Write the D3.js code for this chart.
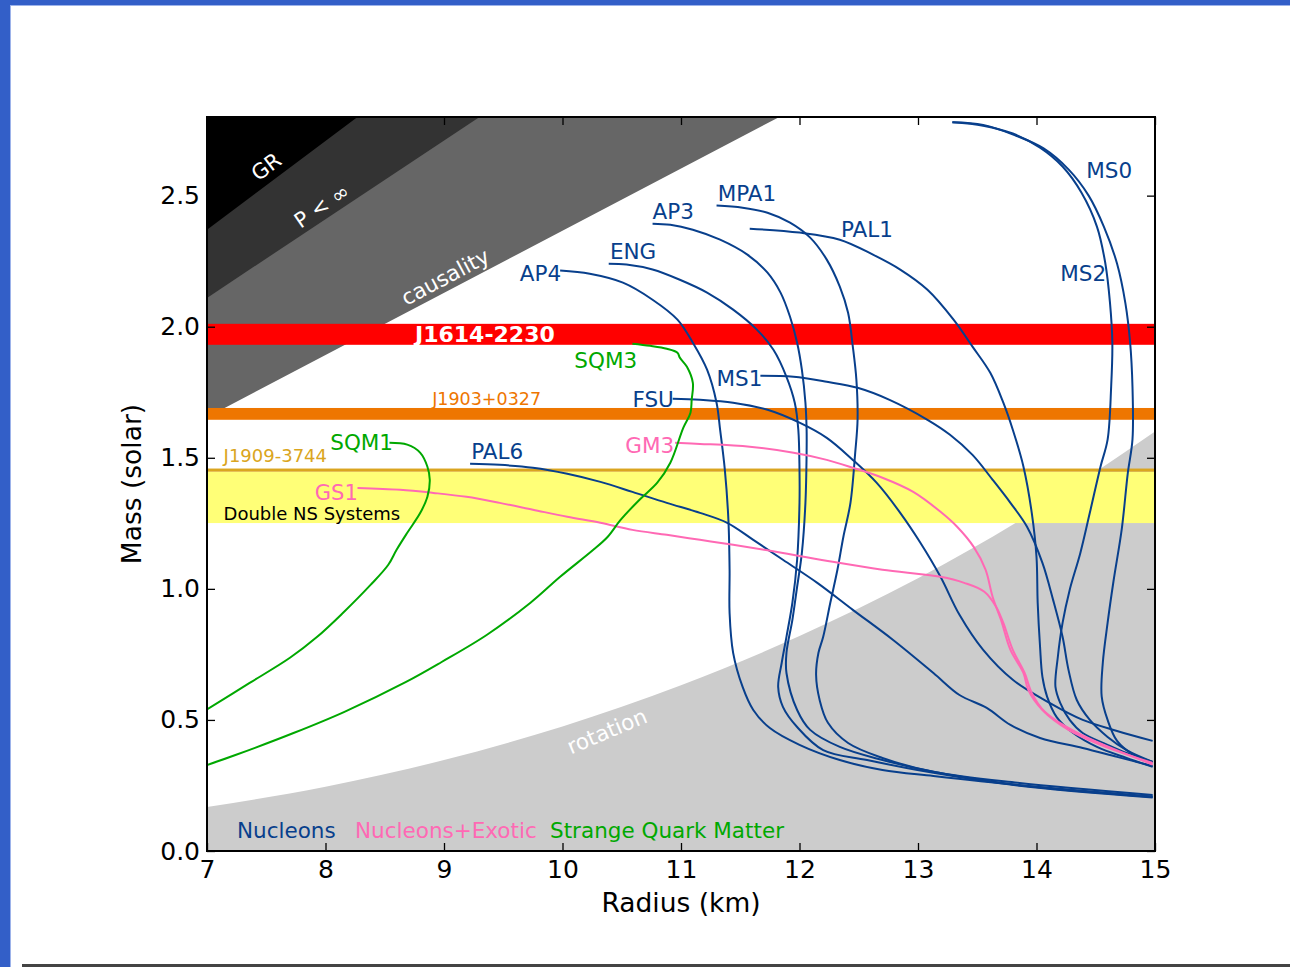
<!DOCTYPE html>
<html><head><meta charset="utf-8">
<script src="https://cdn.jsdelivr.net/npm/d3@7"></script>
<style>
html,body{margin:0;padding:0;background:#fff;}
svg{display:block;font-family:"DejaVu Sans",sans-serif;}
</style></head><body>
<svg id="chart" width="1290" height="967"></svg>
<script>
// ---------------- data ----------------
const xTicks = [7, 8, 9, 10, 11, 12, 13, 14, 15];
const yTicks = [0, 0.5, 1.0, 1.5, 2.0, 2.5];
const yTickLabels = ["0.0", "0.5", "1.0", "1.5", "2.0", "2.5"];

// excluded regions (boundary lines, radius km / mass solar)
const grLimit = [[7, 2.37], [8.27, 2.8]];
const pressureLimit = [[7, 2.11], [9.30, 2.8]];
const causalityLimit = [[7, 1.655], [11.83, 2.8]];
const rotationLimit = [[7, 0.168], [8, 0.245], [9, 0.347], [10, 0.475], [11, 0.632], [12, 0.82], [13, 1.04], [14, 1.30], [15, 1.60]];

// measured mass bands
const bandNames = ["J1614-2230", "J1903+0327", "J1909-3744", "Double NS Systems"];
const bandLow = [1.931, 1.645, 1.447, 1.251];
const bandHigh = [2.011, 1.690, 1.459, 1.447];

// mass–radius curves
const ms0 = [[13.29,2.78],[13.55,2.77],[13.82,2.73],[14.06,2.68],[14.27,2.60],[14.44,2.50],[14.57,2.38],[14.68,2.24],[14.75,2.09],[14.79,1.94],[14.81,1.77],[14.81,1.57],[14.77,1.44],[14.72,1.23],[14.65,1.03],[14.60,0.87],[14.56,0.72],[14.55,0.59],[14.60,0.50],[14.68,0.42],[14.81,0.37],[14.98,0.34]];
const ms2 = [[13.29,2.78],[13.55,2.767],[13.80,2.737],[14.03,2.683],[14.22,2.611],[14.38,2.511],[14.51,2.382],[14.58,2.244],[14.62,2.092],[14.64,1.939],[14.63,1.771],[14.60,1.569],[14.54,1.466],[14.45,1.290],[14.37,1.137],[14.28,0.996],[14.22,0.870],[14.18,0.740],[14.16,0.626],[14.20,0.565],[14.28,0.500],[14.39,0.450],[14.60,0.405],[14.76,0.374],[14.98,0.340]];
const ms1 = [[11.67,1.813],[11.95,1.809],[12.23,1.790],[12.49,1.767],[12.76,1.721],[13.08,1.645],[13.27,1.588],[13.46,1.511],[13.63,1.416],[13.78,1.328],[13.92,1.237],[14.05,1.099],[14.14,0.958],[14.22,0.817],[14.27,0.691],[14.34,0.576],[14.45,0.500],[14.60,0.435],[14.76,0.385],[14.98,0.340]];
const pal1 = [[11.58,2.374],[12.00,2.359],[12.34,2.332],[12.62,2.275],[12.85,2.218],[13.08,2.141],[13.30,2.027],[13.46,1.924],[13.61,1.824],[13.72,1.710],[13.80,1.607],[13.89,1.466],[13.96,1.290],[14.00,1.122],[14.01,0.947],[14.03,0.779],[14.05,0.664],[14.09,0.588],[14.17,0.511],[14.31,0.450],[14.51,0.397],[14.76,0.355],[14.98,0.321]];
const mpa1 = [[11.30,2.462],[11.52,2.454],[11.73,2.435],[11.92,2.397],[12.09,2.340],[12.23,2.256],[12.34,2.153],[12.41,2.053],[12.45,1.924],[12.48,1.798],[12.49,1.645],[12.47,1.519],[12.43,1.328],[12.37,1.198],[12.32,1.073],[12.26,0.947],[12.20,0.817],[12.16,0.756],[12.14,0.672],[12.17,0.576],[12.24,0.489],[12.41,0.412],[12.70,0.355],[13.13,0.302],[13.84,0.260],[14.98,0.214]];
const ap3 = [[10.76,2.393],[10.91,2.389],[11.10,2.370],[11.33,2.332],[11.56,2.275],[11.73,2.206],[11.84,2.130],[11.92,2.038],[11.98,1.939],[12.02,1.836],[12.05,1.710],[12.06,1.607],[12.06,1.519],[12.05,1.328],[12.02,1.137],[11.98,1.008],[11.94,0.882],[11.89,0.756],[11.89,0.679],[11.98,0.538],[12.09,0.462],[12.34,0.397],[12.70,0.347],[13.13,0.302],[13.84,0.252],[14.98,0.206]];
const eng = [[10.39,2.240],[10.54,2.237],[10.76,2.218],[10.99,2.179],[11.22,2.130],[11.44,2.065],[11.64,1.989],[11.78,1.912],[11.89,1.809],[11.96,1.710],[11.99,1.607],[12.00,1.454],[12.00,1.328],[11.98,1.111],[11.94,0.947],[11.89,0.817],[11.85,0.718],[11.82,0.626],[11.86,0.550],[11.98,0.473],[12.20,0.385],[12.57,0.347],[13.13,0.298],[13.84,0.250],[14.98,0.204]];
const ap4 = [[9.98,2.214],[10.23,2.202],[10.51,2.168],[10.76,2.103],[10.97,2.027],[11.10,1.939],[11.22,1.836],[11.30,1.710],[11.33,1.607],[11.37,1.454],[11.40,1.263],[11.41,1.073],[11.41,0.908],[11.44,0.756],[11.52,0.626],[11.61,0.538],[11.75,0.469],[12.00,0.405],[12.34,0.347],[12.70,0.309],[13.13,0.286],[13.84,0.252],[14.98,0.208]];
const fsu = [[10.93,1.725],[11.16,1.721],[11.44,1.710],[11.73,1.683],[12.00,1.634],[12.23,1.576],[12.45,1.492],[12.65,1.405],[12.85,1.290],[13.02,1.176],[13.19,1.046],[13.35,0.901],[13.55,0.767],[13.80,0.653],[14.11,0.565],[14.39,0.500],[14.68,0.458],[14.98,0.420]];
const pal6 = [[9.22,1.477],[9.47,1.473],[9.75,1.462],[10.04,1.439],[10.32,1.408],[10.59,1.370],[10.88,1.328],[11.16,1.290],[11.39,1.252],[11.61,1.187],[11.86,1.111],[12.15,1.023],[12.45,0.920],[12.79,0.805],[13.13,0.679],[13.35,0.595],[13.58,0.546],[13.78,0.481],[14.03,0.431],[14.39,0.393],[14.68,0.359],[14.98,0.324]];
const gm3 = [[10.95,1.557],[11.16,1.553],[11.58,1.542],[11.95,1.519],[12.23,1.492],[12.45,1.462],[12.70,1.424],[12.96,1.370],[13.19,1.294],[13.33,1.237],[13.47,1.160],[13.57,1.073],[13.63,0.969],[13.70,0.882],[13.78,0.767],[13.89,0.679],[13.93,0.615],[14.05,0.538],[14.27,0.462],[14.54,0.405],[14.98,0.336]];
const gs1 = [[8.27,1.385],[8.63,1.378],[8.91,1.366],[9.19,1.351],[9.47,1.328],[9.75,1.302],[10.04,1.275],[10.32,1.252],[10.59,1.225],[10.88,1.206],[11.16,1.187],[11.44,1.168],[11.86,1.137],[12.28,1.103],[12.70,1.073],[13.19,1.046],[13.39,1.023],[13.56,0.989],[13.66,0.931],[13.72,0.870],[13.80,0.767],[13.90,0.679],[13.96,0.603],[14.07,0.531],[14.33,0.454],[14.98,0.330]];
const sqm1 = [[8.54,1.557],[8.69,1.550],[8.80,1.519],[8.86,1.466],[8.88,1.416],[8.86,1.351],[8.80,1.290],[8.69,1.214],[8.60,1.149],[8.53,1.092],[8.38,1.015],[8.14,0.905],[7.93,0.817],[7.70,0.737],[7.36,0.641],[7.00,0.540]];
const sqm3 = [[10.59,1.935],[10.74,1.927],[10.88,1.916],[10.97,1.901],[10.99,1.882],[11.05,1.847],[11.10,1.786],[11.09,1.721],[11.08,1.672],[11.02,1.615],[10.91,1.481],[10.80,1.405],[10.65,1.340],[10.49,1.263],[10.38,1.198],[10.26,1.149],[9.98,1.046],[9.73,0.947],[9.36,0.824],[8.98,0.721],[8.68,0.645],[8.16,0.531],[7.73,0.450],[7.24,0.366],[7.00,0.328]];

const curveNames = ["MS0","MS2","MS1","PAL1","MPA1","AP3","ENG","AP4","FSU","PAL6","GM3","GS1","SQM1","SQM3"];
const curveFamily = ["N","N","N","N","N","N","N","N","N","N","X","X","Q","Q"];
const curveData = [ms0, ms2, ms1, pal1, mpa1, ap3, eng, ap4, fsu, pal6, gm3, gs1, sqm1, sqm3];

const familyNames = ["Nucleons", "Nucleons+Exotic", "Strange Quark Matter"];
const familyKeys = ["N", "X", "Q"];

// ---------------- drawing ----------------
const svg = d3.select("#chart");
const color = d3.scaleOrdinal().domain(familyKeys).range(["#083f8c", "#ff69b4", "#00a800"]);
const x = d3.scaleLinear().domain([7, 15]).range([207, 1155]);
const y = d3.scaleLinear().domain([0, 2.8]).range([851, 117]);
const [X0, X1] = x.range(); const [Y0, Y1] = [y(2.8), y(0)];

// page frame
svg.append("rect").attr("x", 0).attr("y", 0).attr("width", 1290).attr("height", 967).attr("fill", "#fff");
svg.append("rect").attr("x", 0).attr("y", 0).attr("width", 10).attr("height", 967).attr("fill", "#335fc8");
svg.append("rect").attr("x", 0).attr("y", 0).attr("width", 1290).attr("height", 5).attr("fill", "#335fc8");
svg.append("rect").attr("x", 10).attr("y", 5).attr("width", 1).attr("height", 962).attr("fill", "#9db3ea");
svg.append("rect").attr("x", 10).attr("y", 5).attr("width", 1280).attr("height", 1).attr("fill", "#9db3ea");
svg.append("rect").attr("x", 22).attr("y", 964).attr("width", 1268).attr("height", 3).attr("fill", "#444");

svg.append("defs").append("clipPath").attr("id", "plotclip")
  .append("rect").attr("x", X0).attr("y", Y0).attr("width", X1 - X0).attr("height", Y1 - Y0);
const plot = svg.append("g").attr("clip-path", "url(#plotclip)");

// regions above a boundary line
function upperRegion(pts) {
  const poly = [[7, 2.8]].concat(pts).concat([[15, 2.8]]);
  return d3.line().x(d => x(d[0])).y(d => y(d[1]))(poly) + "Z";
}
plot.append("path").attr("d", upperRegion(causalityLimit)).attr("fill", "#666666");
plot.append("path").attr("d", upperRegion(pressureLimit)).attr("fill", "#333333");
plot.append("path").attr("d", upperRegion(grLimit)).attr("fill", "#000000");
plot.append("path")
  .attr("d", d3.area().x(d => x(d[0])).y0(y(0)).y1(d => y(d[1])).curve(d3.curveMonotoneX)(rotationLimit))
  .attr("fill", "#cccccc");

// bands
const bandColors = ["#ff0000", "#ee7600", "#daa520", "#ffff77"];
const bandOrder = [3, 2, 1, 0];
plot.selectAll("rect.band").data(bandOrder).enter().append("rect")
  .attr("class", "band")
  .attr("x", X0).attr("width", X1 - X0)
  .attr("y", i => y(bandHigh[i])).attr("height", i => y(bandLow[i]) - y(bandHigh[i]))
  .attr("fill", i => bandColors[i]);

// curves
const line = d3.line().x(d => x(d[0])).y(d => y(d[1])).curve(d3.curveCatmullRom.alpha(0.5));
plot.selectAll("path.eos").data(curveData).enter().append("path")
  .attr("class", "eos")
  .attr("d", d => line(d))
  .attr("fill", "none")
  .attr("stroke", (d, i) => color(curveFamily[i]))
  .attr("stroke-width", 2)
  .attr("stroke-linejoin", "round");

// region labels
const regionLabels = [
  {t: "GR", r: 7.50, m: 2.61, a: -37, fs: 21},
  {t: "P < \u221E", r: 7.97, m: 2.46, a: -34, fs: 21},
  {t: "causality", r: 9.01, m: 2.19, a: -28, fs: 21.5},
  {t: "rotation", r: 10.375, m: 0.457, a: -23, fs: 21.5}
];
plot.selectAll("text.region").data(regionLabels).enter().append("text")
  .attr("class", "region")
  .attr("transform", d => `translate(${x(d.r)},${y(d.m)}) rotate(${d.a})`)
  .attr("text-anchor", "middle").attr("dominant-baseline", "central")
  .attr("fill", "#fff").attr("font-size", d => d.fs).text(d => d.t);

// band labels
const bandLabelPos = [
  {r: 9.345, m: 1.941, anchor: "middle", fs: 22, w: "bold", c: "#fff"},
  {r: 8.90, m: 1.700, anchor: "start", fs: 17.5, w: "normal", c: "#ee7600"},
  {r: 7.14, m: 1.483, anchor: "start", fs: 18, w: "normal", c: "#daa520"},
  {r: 7.14, m: 1.262, anchor: "start", fs: 18, w: "normal", c: "#000"}
];
svg.selectAll("text.bandlbl").data(bandNames).enter().append("text")
  .attr("class", "bandlbl")
  .attr("x", (d, i) => x(bandLabelPos[i].r)).attr("y", (d, i) => y(bandLabelPos[i].m))
  .attr("text-anchor", (d, i) => bandLabelPos[i].anchor)
  .attr("font-size", (d, i) => bandLabelPos[i].fs)
  .attr("font-weight", (d, i) => bandLabelPos[i].w)
  .attr("fill", (d, i) => bandLabelPos[i].c)
  .text(d => d);

// curve labels (left edge, baseline)
const curveLabelPos = {
  MS0: [14.42, 2.569], MS2: [14.20, 2.176], MS1: [11.30, 1.775], PAL1: [12.35, 2.344],
  MPA1: [11.31, 2.481], AP3: [10.76, 2.412], ENG: [10.40, 2.260], AP4: [9.64, 2.176],
  FSU: [10.59, 1.695], PAL6: [9.23, 1.496], GM3: [10.53, 1.519], GS1: [7.91, 1.340],
  SQM1: [8.04, 1.531], SQM3: [10.10, 1.844]
};
svg.selectAll("text.curvelbl").data(curveNames).enter().append("text")
  .attr("class", "curvelbl")
  .attr("x", d => x(curveLabelPos[d][0])).attr("y", d => y(curveLabelPos[d][1]))
  .attr("font-size", d => d === "GS1" ? 21 : 21.5)
  .attr("fill", (d, i) => color(curveFamily[i]))
  .text(d => d);

// family legend
const familyPos = [7.253, 8.249, 9.895];
svg.selectAll("text.family").data(familyNames).enter().append("text")
  .attr("class", "family")
  .attr("x", (d, i) => x(familyPos[i])).attr("y", y(0.05))
  .attr("font-size", 21.5)
  .attr("fill", (d, i) => color(familyKeys[i]))
  .text(d => d);

// axes
const fmtY = d => yTickLabels[yTicks.indexOf(d)];
const gx = svg.append("g").attr("transform", `translate(0,${Y1})`)
  .call(d3.axisBottom(x).tickValues(xTicks).tickSizeInner(-8).tickSizeOuter(0).tickPadding(9).tickFormat(d3.format("d")));
const gy = svg.append("g").attr("transform", `translate(${X0},0)`)
  .call(d3.axisLeft(y).tickValues(yTicks).tickSizeInner(-8).tickSizeOuter(0).tickPadding(7).tickFormat(fmtY));
const gt = svg.append("g").attr("transform", `translate(0,${Y0})`)
  .call(d3.axisTop(x).tickValues(xTicks).tickSizeInner(-8).tickSizeOuter(0).tickFormat(""));
const gr = svg.append("g").attr("transform", `translate(${X1},0)`)
  .call(d3.axisRight(y).tickValues(yTicks).tickSizeInner(-8).tickSizeOuter(0).tickFormat(""));
[gx, gy, gt, gr].forEach(g => {
  g.select(".domain").remove();
  g.selectAll("line").attr("stroke", "#000").attr("stroke-width", 1.3);
  g.selectAll("text").attr("font-size", 25).attr("font-family", "DejaVu Sans").attr("fill", "#000");
});
svg.append("rect").attr("x", X0).attr("y", Y0).attr("width", X1 - X0).attr("height", Y1 - Y0)
  .attr("fill", "none").attr("stroke", "#000").attr("stroke-width", 2);

// axis titles
svg.append("text").attr("x", (X0 + X1) / 2).attr("y", 912).attr("text-anchor", "middle")
  .attr("font-size", 26.5).text("Radius (km)");
svg.append("text").attr("transform", `translate(141,${(Y0 + Y1) / 2}) rotate(-90)`).attr("text-anchor", "middle")
  .attr("font-size", 26.5).text("Mass (solar)");
</script>
</body></html>
